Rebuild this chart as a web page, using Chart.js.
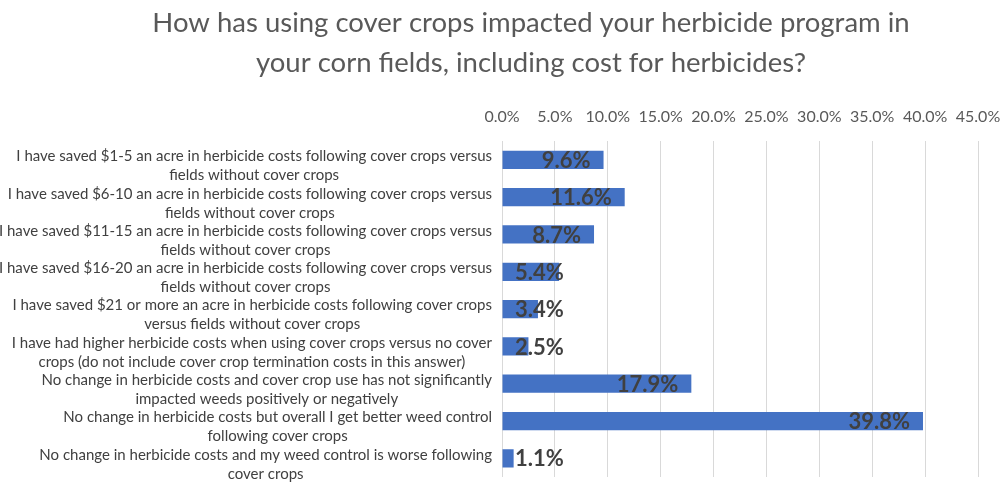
<!DOCTYPE html>
<html>
<head>
<meta charset="utf-8">
<script src="https://cdn.jsdelivr.net/npm/chart.js@4.4.0/dist/chart.umd.min.js"></script>
<style>
    body { margin: 0; background: #ffffff; }
    #wrap { width: 1008px; height: 482px; }
</style>
</head>
<body>
<div id="wrap"><canvas id="herbicideChart" width="1008" height="482"></canvas></div>
<script>
// Data //
var titleLines = [
    'How has using cover crops impacted your herbicide program in',
    'your corn fields, including cost for herbicides?'
];

var categories = [
    ['I have saved $1-5 an acre in herbicide costs following cover crops versus', 'fields without cover crops'],
    ['I have saved $6-10 an acre in herbicide costs following cover crops versus', 'fields without cover crops'],
    ['I have saved $11-15 an acre in herbicide costs following cover crops versus', 'fields without cover crops'],
    ['I have saved $16-20 an acre in herbicide costs following cover crops versus', 'fields without cover crops'],
    ['I have saved $21 or more an acre in herbicide costs following cover crops', 'versus fields without cover crops'],
    ['I have had higher herbicide costs when using cover crops versus no cover', 'crops (do not include cover crop termination costs in this answer)'],
    ['No change in herbicide costs and cover crop use has not significantly', 'impacted weeds positively or negatively'],
    ['No change in herbicide costs but overall I get better weed control', 'following cover crops'],
    ['No change in herbicide costs and my weed control is worse following', 'cover crops']
];

var shares = [9.6, 11.6, 8.7, 5.4, 3.4, 2.5, 17.9, 39.8, 1.1];

var axisMin = 0;
var axisMax = 45;
var axisStep = 5;


// Title, wrapped category labels and value labels //
var textPlugin = {
    id: 'textPlugin',
    afterDatasetsDraw: function (chart) {
        var ctx = chart.ctx;
        var area = chart.chartArea;
        var meta = chart.getDatasetMeta(0);

        ctx.save();
        ctx.font = 'bold 22px Lato';
        ctx.fillStyle = '#404040';
        ctx.textAlign = 'right';
        ctx.textBaseline = 'middle';
        meta.data.forEach(function (bar, i) {
            var txt = shares[i].toFixed(1) + '%';
            var w = ctx.measureText(txt).width;
            var x = Math.max(bar.x - 13, area.left + 13 + w);
            ctx.fillText(txt, x, bar.y + 1);
        });
        ctx.restore();
    },
    afterDraw: function (chart) {
        var ctx = chart.ctx;
        var yScale = chart.scales.y;

        ctx.save();
        ctx.fillStyle = '#595959';
        ctx.font = '27.5px Lato';
        ctx.textAlign = 'center';
        ctx.textBaseline = 'middle';
        titleLines.forEach(function (line, i) {
            ctx.fillText(line, 531, 23 + i * 40);
        });

        ctx.fillStyle = '#404040';
        ctx.font = '15px Lato';
        categories.forEach(function (lines, i) {
            var py = yScale.getPixelForTick(i) + 6;
            var widest = 0;
            lines.forEach(function (l) {
                widest = Math.max(widest, ctx.measureText(l).width);
            });
            var cx = yScale.right - 10 - widest / 2;
            lines.forEach(function (l, j) {
                ctx.fillText(l, cx, py + (j - (lines.length - 1) / 2) * 19);
            });
        });
        ctx.restore();
    }
};


var ctx = document.getElementById('herbicideChart').getContext('2d');
var herbicideChart = new Chart(ctx, {
    type: 'bar',
    data: {
        labels: categories,
        datasets: [{
            data: shares,
            backgroundColor: '#4472c4',
            borderWidth: 0,
            barPercentage: 0.49,
            categoryPercentage: 1,
        }],
    },

    options: {
        indexAxis: 'y',
        responsive: false,
        animation: false,
        layout: {
            padding: {
                left: 0,
                right: 0,
                top: 92,
                bottom: 5
            }
        },
        scales: {
            x: {
                position: 'top',
                min: axisMin,
                max: axisMax,
                grid: {
                    color: '#d9d9d9',
                    lineWidth: 1,
                    drawTicks: false,
                },
                border: {
                    display: false,
                },
                ticks: {
                    stepSize: axisStep,
                    padding: 15,
                    color: '#595959',
                    font: {
                        family: 'Lato',
                        size: 16,
                    },
                    callback: function (value) {
                        return value.toFixed(1) + '%';
                    },
                },
                afterFit: function (scale) {
                    scale.paddingLeft = 0;
                    scale.paddingRight = 30;
                },
            },

            y: {
                grid: {
                    display: false,
                },
                border: {
                    display: false,
                },
                ticks: {
                    display: false,
                },
                afterFit: function (scale) {
                    scale.width = 502;
                },
            },
        },

        plugins: {
            legend: {
                display: false,
            },
            tooltip: {
                enabled: false,
            },
        }
    },
    plugins: [textPlugin]
});
</script>
</body>
</html>
